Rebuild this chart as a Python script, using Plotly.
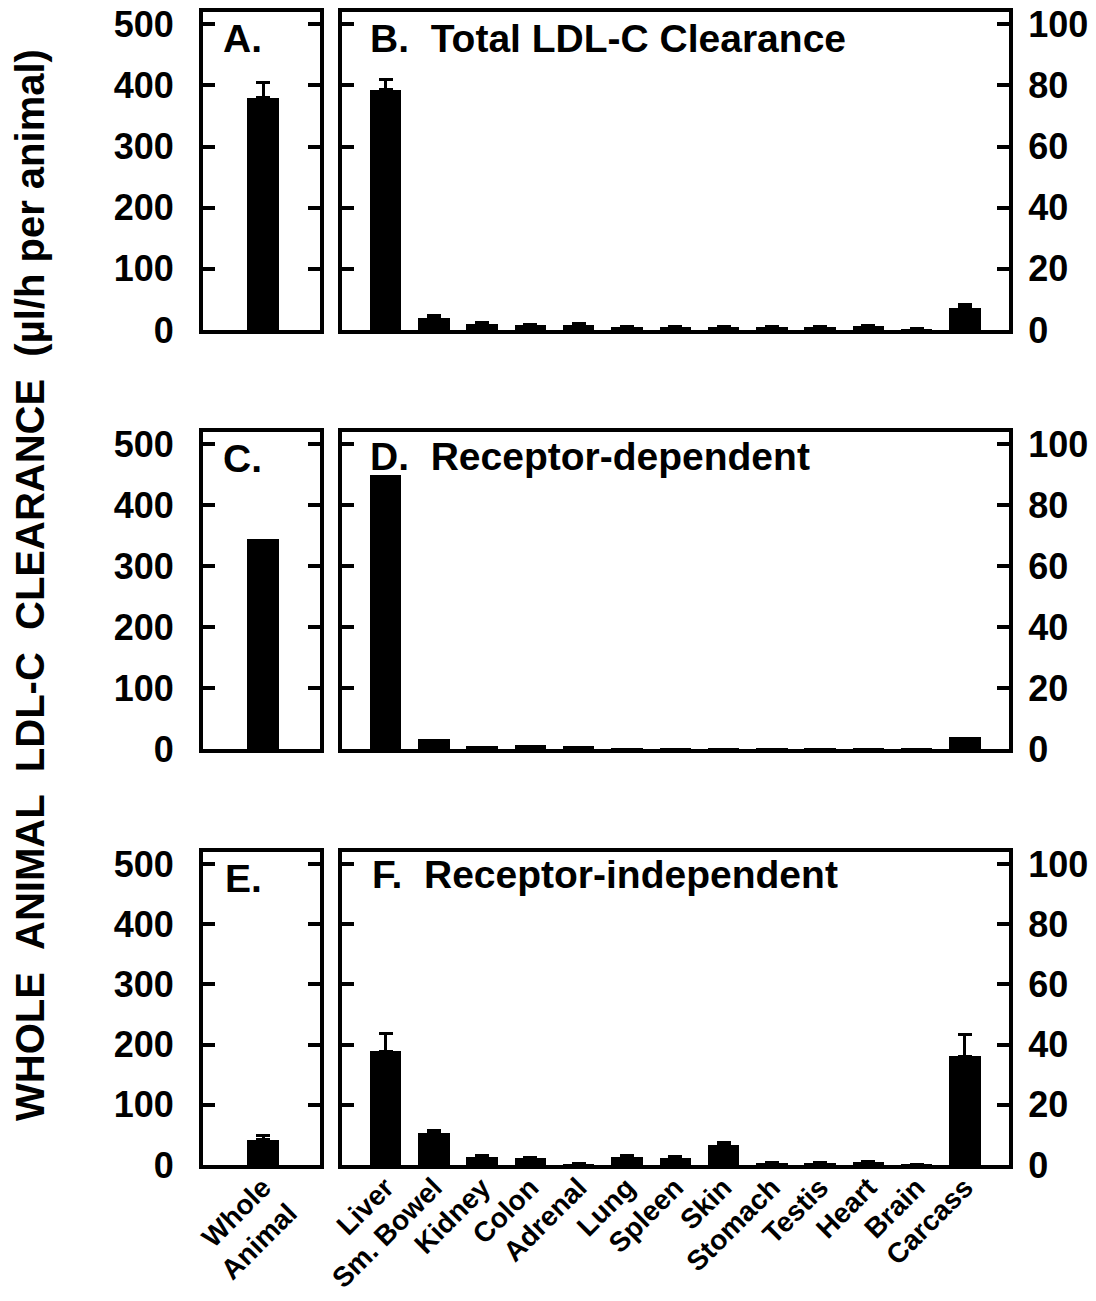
import plotly.graph_objects as go

# ---- data -------------------------------------------------------------
organs = ["Liver", "Sm. Bowel", "Kidney", "Colon", "Adrenal", "Lung", "Spleen",
          "Skin", "Stomach", "Testis", "Heart", "Brain", "Carcass"]
whole_label = ["Whole<br>Animal"]

# A / B : total LDL-C clearance
total_whole = [380]
total_whole_err = [25]
total_organs = [78.5, 4.0, 2.0, 1.5, 1.8, 1.1, 1.1, 1.1, 0.9, 0.9, 1.2, 0.3, 7.3]
total_organs_err = [3.5, 0.6, 0.3, 0.2, 0.3, 0.2, 0.2, 0.2, 0.1, 0.1, 0.2, 0.1, 1.2]

# C / D : receptor-dependent
dep_whole = [344]
dep_organs = [90.0, 3.3, 1.1, 1.3, 1.1, 0.1, 0.1, 0.1, 0.1, 0.1, 0.1, 0.1, 4.1]

# E / F : receptor-independent
indep_whole = [42]
indep_whole_err = [7]
indep_organs = [37.8, 10.5, 2.8, 2.2, 0.3, 2.8, 2.4, 6.5, 0.8, 0.8, 1.0, 0.2, 36.1]
indep_organs_err = [5.8, 1.0, 0.4, 0.3, 0.1, 0.4, 0.3, 1.0, 0.1, 0.1, 0.1, 0.1, 7.3]

left_ticks = [0, 100, 200, 300, 400, 500]
right_ticks = [0, 20, 40, 60, 80, 100]

panel_titles = ["A.", "B.\u00a0\u00a0Total LDL-C Clearance",
                "C.", "D.\u00a0\u00a0Receptor-dependent",
                "E.", "F.\u00a0\u00a0Receptor-independent"]
y_title = ("WHOLE\u00a0\u00a0ANIMAL\u00a0\u00a0LDL-C\u00a0\u00a0CLEARANCE"
           "\u00a0\u00a0(\u00b5l/h per animal)")

# ---- layout geometry (pixels) ----------------------------------------
W, H = 1096, 1301
FONT = "Liberation Sans, Arial, Helvetica, sans-serif"
left_px = (203, 320)
right_px = (342, 1009)
rows_px = [(12, 330), (432, 749), (852, 1165)]


def xdom(px):
    return [px[0] / W, px[1] / W]


def ydom(px):
    return [1 - px[1] / H, 1 - px[0] / H]


fig = go.Figure()

series = [
    (total_whole, total_whole_err, total_organs, total_organs_err),
    (dep_whole, None, dep_organs, None),
    (indep_whole, indep_whole_err, indep_organs, indep_organs_err),
]

bar_w = 0.65
axis_line = dict(showline=True, linecolor="black", linewidth=4, mirror=True,
                 showgrid=False, zeroline=False, automargin=False)

for r, (w_vals, w_err, o_vals, o_err) in enumerate(series):
    il = 2 * r + 1
    ir = 2 * r + 2
    for idx, xs, ys, err in ((il, whole_label, w_vals, w_err),
                             (ir, organs, o_vals, o_err)):
        kw = {}
        if err is not None:
            kw["error_y"] = dict(type="data", array=err, arrayminus=[0] * len(err),
                                 symmetric=False, color="black", thickness=3, width=7)
        fig.add_trace(go.Bar(
            x=xs, y=ys, width=bar_w, marker=dict(color="black", line=dict(width=0)),
            xaxis=f"x{idx}", yaxis=f"y{idx}", showlegend=False, **kw))

    last = r == 2
    xfont = dict(family=FONT, size=28, color="black", weight="bold")
    yfont = dict(family=FONT, size=36, color="black", weight="bold")

    # whole-animal panel
    fig.layout[f"xaxis{il}"] = dict(
        domain=xdom(left_px), anchor=f"y{il}", type="category",
        range=[-1.243, 1.181], ticks="", showticklabels=last,
        tickangle=-45, tickfont=xfont, ticklabelstandoff=-9, **axis_line)
    fig.layout[f"yaxis{il}"] = dict(
        domain=ydom(rows_px[r]), anchor=f"x{il}", range=[0, 520],
        tickvals=left_ticks, ticks="inside", ticklen=12, tickwidth=4,
        tickcolor="black", side="left", tickfont=yfont,
        ticklabelstandoff=18,
        **{**axis_line, "mirror": "ticks"})

    # organ panel
    fig.layout[f"xaxis{ir}"] = dict(
        domain=xdom(right_px), anchor=f"y{ir}", type="category",
        categoryorder="array", categoryarray=organs,
        range=[-0.903, 12.912], ticks="", showticklabels=last,
        tickangle=-45, tickfont=xfont, ticklabelstandoff=-9, **axis_line)
    fig.layout[f"yaxis{ir}"] = dict(
        domain=ydom(rows_px[r]), anchor=f"x{ir}", range=[0, 104],
        tickvals=right_ticks, ticks="inside", ticklen=12, tickwidth=4,
        tickcolor="black", side="right", tickfont=yfont,
        ticklabelstandoff=8,
        **{**axis_line, "mirror": "ticks"})

# panel titles
title_font = dict(family=FONT, size=39, color="black", weight="bold")
title_pos = [(221, 38), (368, 38), (221, 458), (368, 457), (223, 878), (370, 874)]
for txt, (px, py) in zip(panel_titles, title_pos):
    fig.add_annotation(text=txt, x=px / W, y=1 - py / H, xref="paper", yref="paper",
                       xanchor="left", yanchor="middle", showarrow=False,
                       font=title_font)

# shared y-axis title
fig.add_annotation(text=y_title, x=30 / W, y=1 - 585 / H, xref="paper", yref="paper",
                   xanchor="center", yanchor="middle", textangle=-90, showarrow=False,
                   font=dict(family=FONT, size=40, color="black", weight="bold"))

fig.update_layout(width=W, height=H, margin=dict(l=0, r=0, t=0, b=0),
                  paper_bgcolor="white", plot_bgcolor="white", bargap=0)

fig.write_html("out.html")
